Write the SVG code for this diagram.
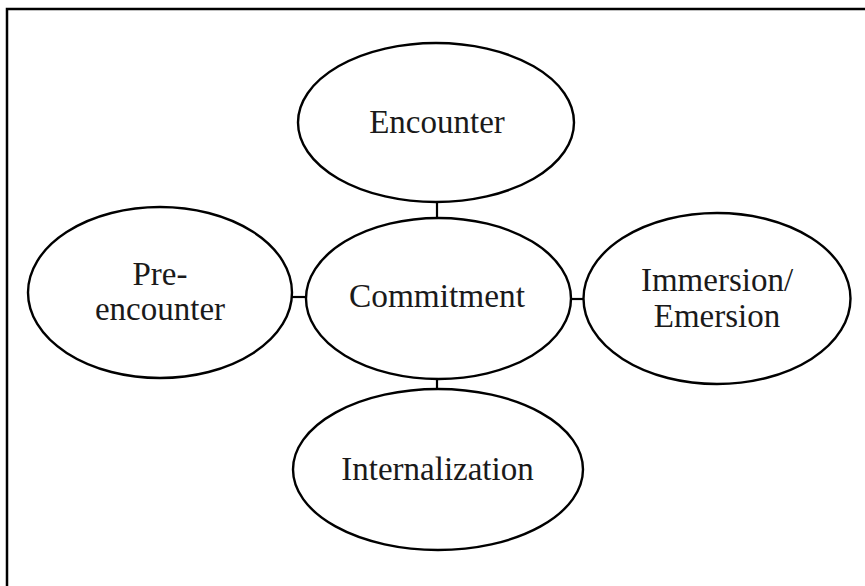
<svg xmlns="http://www.w3.org/2000/svg" width="865" height="586" viewBox="0 0 865 586">
<style>
.node ellipse{fill:#fff;stroke:#000;stroke-width:2.4}
.node text{font-family:"Liberation Serif","Times New Roman",serif;font-size:33px;fill:#1a1a1a;text-anchor:middle}
.conn line{stroke:#000;stroke-width:2.2}
</style>
<rect x="0" y="0" width="865" height="586" fill="#fff"/>
<rect x="7" y="9" width="900" height="620" fill="none" stroke="#000" stroke-width="2.5"/>
<g class="conn">
<line x1="437" y1="202" x2="437" y2="219"/>
<line x1="437" y1="378" x2="437" y2="390"/>
<line x1="291" y1="297" x2="307" y2="297"/>
<line x1="570" y1="299" x2="584" y2="299"/>
</g>
<g class="node" id="encounter">
<ellipse cx="436" cy="122.5" rx="138" ry="79.5"/>
<text x="437" y="133">Encounter</text>
</g>
<g class="node" id="pre-encounter">
<ellipse cx="160" cy="292.5" rx="132" ry="85.5"/>
<text x="160" y="285">Pre-</text>
<text x="160" y="320">encounter</text>
</g>
<g class="node" id="commitment">
<ellipse cx="438.5" cy="298.5" rx="132.5" ry="80.5"/>
<text x="437" y="307" textLength="176" lengthAdjust="spacingAndGlyphs">Commitment</text>
</g>
<g class="node" id="immersion-emersion">
<ellipse cx="717" cy="298.5" rx="133.5" ry="85.5"/>
<text x="717" y="291">Immersion/</text>
<text x="717" y="327">Emersion</text>
</g>
<g class="node" id="internalization">
<ellipse cx="438" cy="469.5" rx="145" ry="80.5"/>
<text x="437.5" y="480">Internalization</text>
</g>
</svg>
